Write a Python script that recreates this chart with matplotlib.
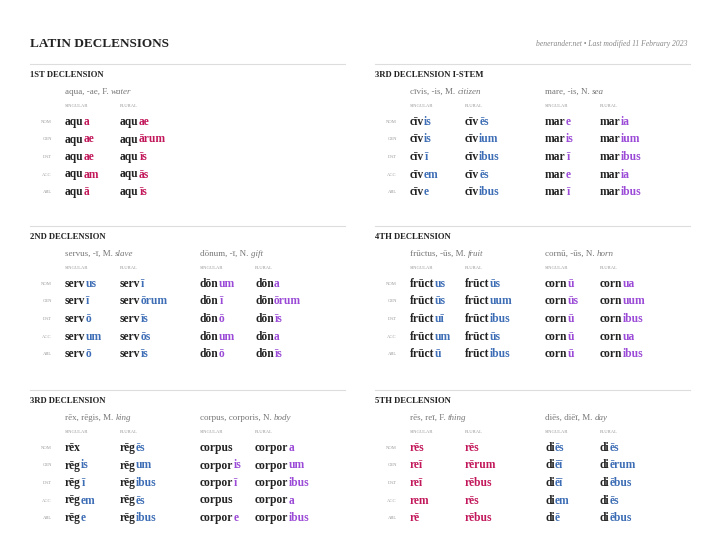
import matplotlib
matplotlib.use("Agg")
import matplotlib.pyplot as plt
from matplotlib import transforms

PINK = "#c2185b"; BLUE = "#3d6db5"; PURPLE = "#9a4ad6"; DARK = "#222222"
cases = ["NOM", "GEN", "DAT", "ACC", "ABL"]

decl1_title = "1ST DECLENSION"
decl1_lemmas = [("aqua, -ae, F. ", "water")]
decl1_sg = ["aqu|a", "aqu|ae", "aqu|ae", "aqu|am", "aqu|ā"]
decl1_pl = ["aqu|ae", "aqu|ārum", "aqu|īs", "aqu|ās", "aqu|īs"]

decl2_title = "2ND DECLENSION"
decl2_lemmas = [("servus, -ī, M. ", "slave"), ("dōnum, -ī, N. ", "gift")]
servus_sg = ["serv|us", "serv|ī", "serv|ō", "serv|um", "serv|ō"]
servus_pl = ["serv|ī", "serv|ōrum", "serv|īs", "serv|ōs", "serv|īs"]
donum_sg = ["dōn|um", "dōn|ī", "dōn|ō", "dōn|um", "dōn|ō"]
donum_pl = ["dōn|a", "dōn|ōrum", "dōn|īs", "dōn|a", "dōn|īs"]

decl3_title = "3RD DECLENSION"
decl3_lemmas = [("rēx, rēgis, M. ", "king"), ("corpus, corporis, N. ", "body")]
rex_sg = ["rēx|", "rēg|is", "rēg|ī", "rēg|em", "rēg|e"]
rex_pl = ["rēg|ēs", "rēg|um", "rēg|ibus", "rēg|ēs", "rēg|ibus"]
corpus_sg = ["corpus|", "corpor|is", "corpor|ī", "corpus|", "corpor|e"]
corpus_pl = ["corpor|a", "corpor|um", "corpor|ibus", "corpor|a", "corpor|ibus"]

decl3i_title = "3RD DECLENSION I-STEM"
decl3i_lemmas = [("cīvis, -is, M. ", "citizen"), ("mare, -is, N. ", "sea")]
civis_sg = ["cīv|is", "cīv|is", "cīv|ī", "cīv|em", "cīv|e"]
civis_pl = ["cīv|ēs", "cīv|ium", "cīv|ibus", "cīv|ēs", "cīv|ibus"]
mare_sg = ["mar|e", "mar|is", "mar|ī", "mar|e", "mar|ī"]
mare_pl = ["mar|ia", "mar|ium", "mar|ibus", "mar|ia", "mar|ibus"]

decl4_title = "4TH DECLENSION"
decl4_lemmas = [("frūctus, -ūs, M. ", "fruit"), ("cornū, -ūs, N. ", "horn")]
fructus_sg = ["frūct|us", "frūct|ūs", "frūct|uī", "frūct|um", "frūct|ū"]
fructus_pl = ["frūct|ūs", "frūct|uum", "frūct|ibus", "frūct|ūs", "frūct|ibus"]
cornu_sg = ["corn|ū", "corn|ūs", "corn|ū", "corn|ū", "corn|ū"]
cornu_pl = ["corn|ua", "corn|uum", "corn|ibus", "corn|ua", "corn|ibus"]

decl5_title = "5TH DECLENSION"
decl5_lemmas = [("rēs, reī, F. ", "thing"), ("diēs, diēī, M. ", "day")]
res_sg = ["|rēs", "|reī", "|reī", "|rem", "|rē"]
res_pl = ["|rēs", "|rērum", "|rēbus", "|rēs", "|rēbus"]
dies_sg = ["di|ēs", "di|ēī", "di|ēī", "di|em", "di|ē"]
dies_pl = ["di|ēs", "di|ērum", "di|ēbus", "di|ēs", "di|ēbus"]

panels = [
    (30, 64, decl1_title, decl1_lemmas, [(decl1_sg, PINK), (decl1_pl, PINK)]),
    (30, 226, decl2_title, decl2_lemmas, [(servus_sg, BLUE), (servus_pl, BLUE), (donum_sg, PURPLE), (donum_pl, PURPLE)]),
    (30, 390, decl3_title, decl3_lemmas, [(rex_sg, BLUE), (rex_pl, BLUE), (corpus_sg, PURPLE), (corpus_pl, PURPLE)]),
    (375, 64, decl3i_title, decl3i_lemmas, [(civis_sg, BLUE), (civis_pl, BLUE), (mare_sg, PURPLE), (mare_pl, PURPLE)]),
    (375, 226, decl4_title, decl4_lemmas, [(fructus_sg, BLUE), (fructus_pl, BLUE), (cornu_sg, PURPLE), (cornu_pl, PURPLE)]),
    (375, 390, decl5_title, decl5_lemmas, [(res_sg, PINK), (res_pl, PINK), (dies_sg, BLUE), (dies_pl, BLUE)]),
]

FONT = "Liberation Serif"
fig = plt.figure(figsize=(7.2, 5.56), dpi=100)
ax = fig.add_axes([0, 0, 1, 1])
ax.set_xlim(0, 720); ax.set_ylim(556, 0); ax.axis("off")
r = fig.canvas.get_renderer()

ax.text(30, 44, "LATIN DECLENSIONS", fontsize=9.5, weight="bold", family=FONT, color=DARK, va="center")
ax.text(688, 44, "benerander.net • Last modified 11 February 2023", fontsize=5.5, style="italic",
        family=FONT, color="#888888", va="center", ha="right")

def width(s, **kw):
    if not s:
        return 0.0
    t = ax.text(0, 0, s, **kw)
    w = t.get_window_extent(renderer=r).width
    t.remove()
    return w

def two_part(x, y, a, b, ca, cb, kwa, kwb):
    ax.text(x, y, a, color=ca, va="center", **kwa)
    if b:
        w = width(a + b, **kwa) - width(b, **kwb) if a else 0.0
        if a and kwa != kwb:
            w = width(a + "x", **kwa) - width("x", **kwa)
        tr = transforms.offset_copy(ax.transData, fig=fig, x=w * 72 / fig.dpi, y=0, units="points")
        ax.text(x, y, b, color=cb, va="center", transform=tr, **kwb)

col_dx = [35, 90, 170, 225]
lem_kw = dict(fontsize=6.5, family=FONT)
lem_kw_i = dict(fontsize=6.5, family=FONT, style="italic")
word_kw = dict(fontsize=8.3, weight="bold", family=FONT)
for (x0, y0, title, lemmas, cols) in panels:
    ax.plot([x0, x0 + 315], [y0, y0], color="#dddddd", lw=0.8)
    ax.text(x0, y0 + 11, title, fontsize=6.2, weight="bold", family=FONT, color=DARK, va="center")
    for i, (lem, gloss) in enumerate(lemmas):
        two_part(x0 + col_dx[2 * i], y0 + 28, lem, gloss, "#777777", "#777777", lem_kw, lem_kw_i)
    for j in range(len(cols)):
        ax.text(x0 + col_dx[j], y0 + 42, "SINGULAR" if j % 2 == 0 else "PLURAL", fontsize=3.3,
                family=FONT, color="#999999", va="center")
    for k, c in enumerate(cases):
        y = y0 + 58 + k * 17.5
        ax.text(x0 + 22, y, c, fontsize=3.3, family=FONT, color="#999999", va="center", ha="right")
        for j, (forms, color) in enumerate(cols):
            stem, end = forms[k].split("|")
            two_part(x0 + col_dx[j], y, stem, end, DARK, color, word_kw, word_kw)

fig.savefig("out.png", dpi=100, facecolor="white")
